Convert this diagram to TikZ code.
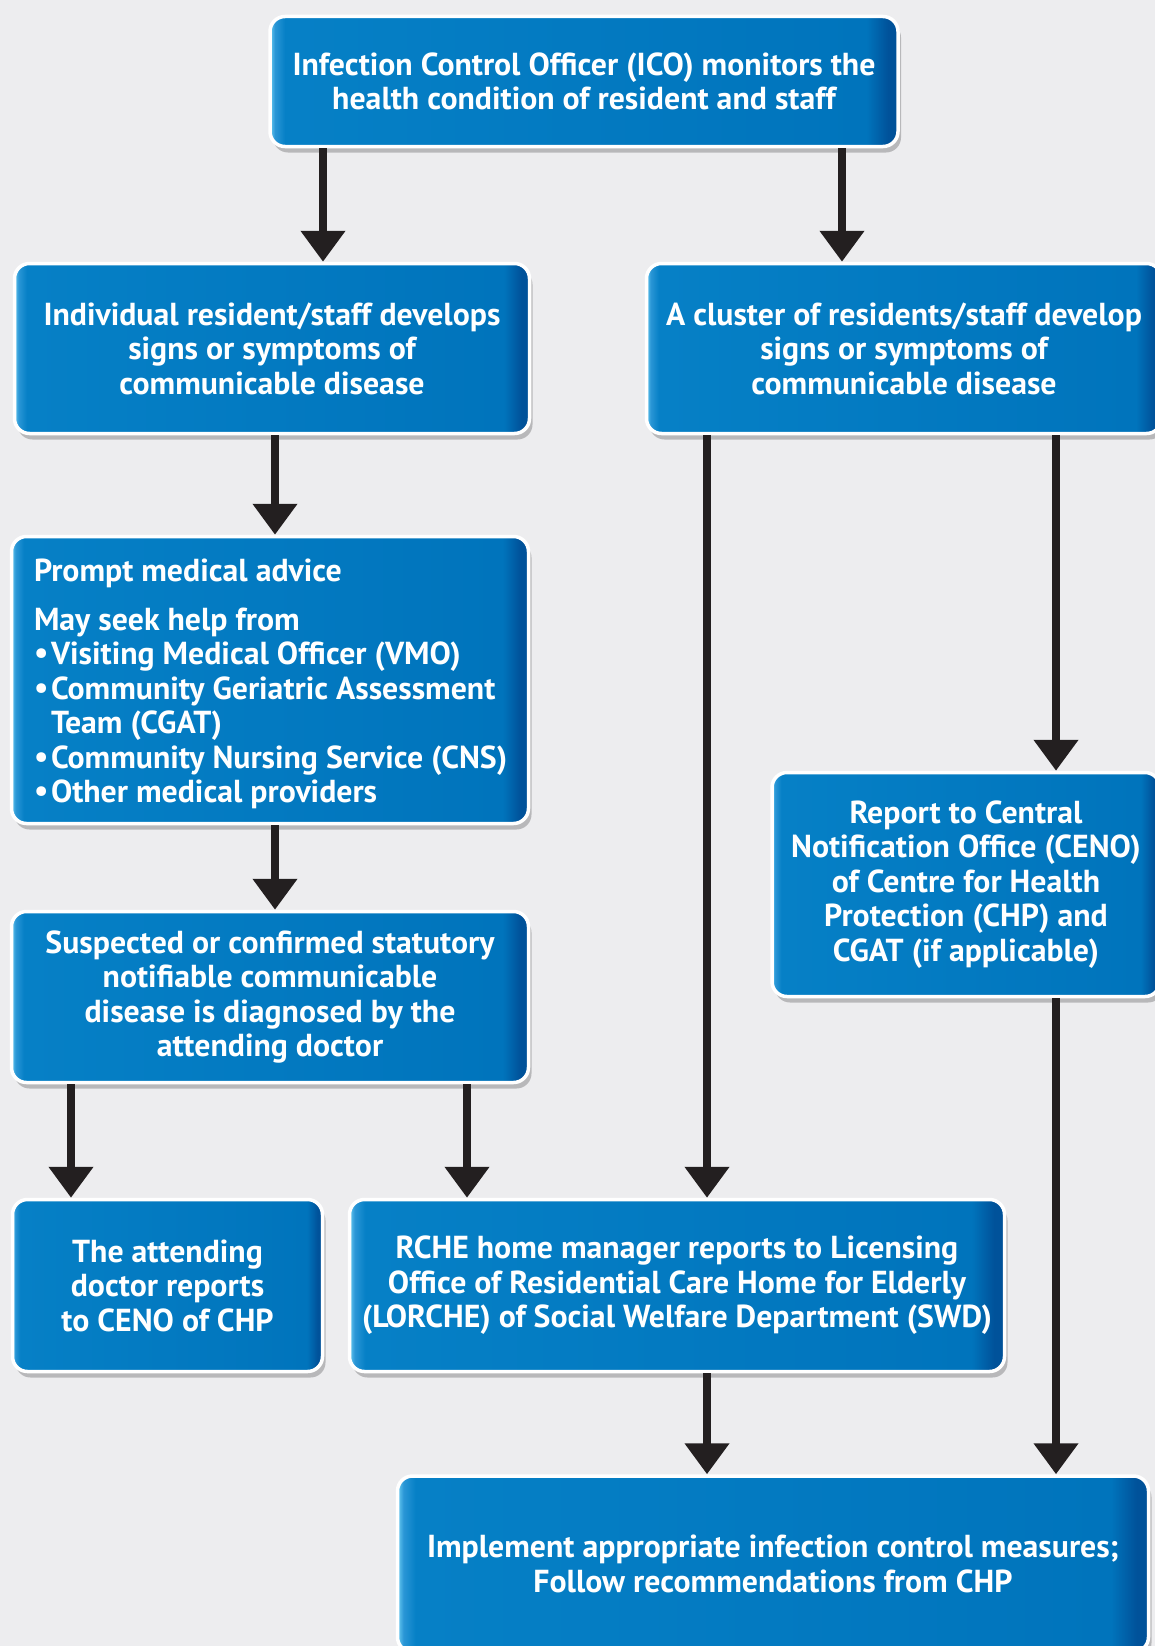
\documentclass[tikz,border=0pt]{standalone}
\usepackage{fontspec}
\setmainfont{PT Sans}
\usetikzlibrary{arrows.meta,shadows}
\definecolor{bgc}{HTML}{EDEDEF}
\definecolor{lineblk}{HTML}{231F20}
\definecolor{hiL}{HTML}{6ACBF1}
\definecolor{midL}{HTML}{2A96D6}
\definecolor{mainA}{HTML}{0680C6}
\definecolor{mainB}{HTML}{0074BC}
\definecolor{darkR}{HTML}{00529A}
\pgfdeclarehorizontalshading{boxshade}{100bp}{color(0bp)=(hiL); color(25bp)=(hiL); color(25.4bp)=(midL); color(26.2bp)=(mainA); color(72.5bp)=(mainB); color(74.2bp)=(darkR); color(75bp)=(darkR); color(100bp)=(darkR)}
\tikzset{
  flowbox/.style={rectangle, rounded corners=15pt, draw=white, line width=3.5pt,
    shading=boxshade, text=white, font=\bfseries\fontsize{31.8}{34.5}\selectfont,
    align=center, inner sep=0pt,
    drop shadow={shadow xshift=3pt, shadow yshift=-6pt, fill=black, opacity=0.22}},
  arr/.style={draw=lineblk, line width=8.5pt, -{Triangle[width=43pt,length=31pt]}}
}
\newcommand{\bulitem}{\makebox[17pt][l]{\raisebox{1pt}{\textbullet}}}
\begin{document}
\begin{tikzpicture}[x=1pt,y=-1pt]
\useasboundingbox (0,0) rectangle (1155,1646);
\fill[bgc] (0,0) rectangle (1155,1646);
% boxes (outer extents minus border)
\node[flowbox, minimum width=628pt, minimum height=130pt] (top) at (584,81.5)
  {Infection Control Officer (ICO) monitors the\\health condition of resident and staff};
\node[flowbox, minimum width=515pt, minimum height=170pt] (ind) at (272,348.5)
  {Individual resident/staff develops\\signs or symptoms of\\communicable disease};
\node[flowbox, minimum width=515pt, minimum height=170pt] (clu) at (904,348.5)
  {A cluster of residents/staff develop\\signs or symptoms of\\communicable disease};
\node[flowbox, minimum width=517pt, minimum height=287pt] (prm) at (270,680)
  {\parbox[c][280pt][c]{500pt}{\raggedright\leftskip=14pt
   \vspace*{8pt}Prompt medical advice\par\vspace{14pt}
   May seek help from\par
   \bulitem Visiting Medical Officer (VMO)\par
   \bulitem Community Geriatric Assessment\par
   \hspace*{17pt}Team (CGAT)\par
   \bulitem Community Nursing Service (CNS)\par
   \bulitem Other medical providers\par}};
\node[flowbox, minimum width=517pt, minimum height=171pt] (sus) at (270,997)
  {Suspected or confirmed statutory\\notifiable communicable\\disease is diagnosed by the\\attending doctor};
\node[flowbox, minimum width=388pt, minimum height=224pt] (rep) at (966,884.5)
  {Report to Central\\Notification Office (CENO)\\of Centre for Health\\Protection (CHP) and\\CGAT (if applicable)};
\node[flowbox, minimum width=310pt, minimum height=172pt] (att) at (167.5,1285.5)
  {The attending\\doctor reports\\to CENO of CHP};
\node[flowbox, minimum width=655pt, minimum height=172pt] (rch) at (677,1285.5)
  {RCHE home manager reports to Licensing\\Office of Residential Care Home for Elderly\\(LORCHE) of Social Welfare Department (SWD)};
\node[flowbox, minimum width=751pt, minimum height=176pt] (imp) at (773,1564)
  {Implement appropriate infection control measures;\\Follow recommendations from CHP};
% x positions of connectors
\coordinate (xa) at (323,0);
\coordinate (xb) at (842,0);
\coordinate (xc) at (275,0);
\coordinate (xd) at (707,0);
\coordinate (xe) at (1056,0);
\coordinate (xf) at (71,0);
\coordinate (xg) at (467,0);
\draw[arr] (top.south -| xa) -- (ind.north -| xa);
\draw[arr] (top.south -| xb) -- (clu.north -| xb);
\draw[arr] (ind.south -| xc) -- (prm.north -| xc);
\draw[arr] (clu.south -| xd) -- (rch.north -| xd);
\draw[arr] (clu.south -| xe) -- (rep.north -| xe);
\draw[arr] (prm.south -| xc) -- (sus.north -| xc);
\draw[arr] (sus.south -| xf) -- (att.north -| xf);
\draw[arr] (sus.south -| xg) -- (rch.north -| xg);
\draw[arr] (rch.south -| xd) -- (imp.north -| xd);
\draw[arr] (rep.south -| xe) -- (imp.north -| xe);
\end{tikzpicture}
\end{document}
